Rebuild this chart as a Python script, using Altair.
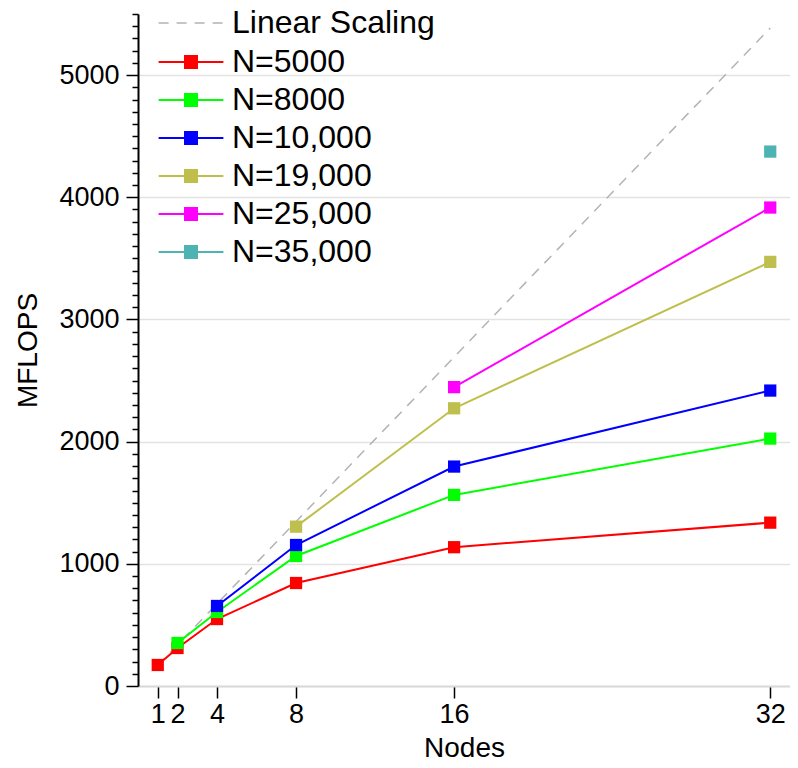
import altair as alt
import pandas as pd

FONT = "Liberation Sans"

# ---- data ----
nodes = [1, 2, 4, 8, 16, 32]
series_names = ["N=5000", "N=8000", "N=10,000", "N=19,000", "N=25,000", "N=35,000"]
series_colors = ["#ff0000", "#00ff00", "#0000ff", "#bfbf4d", "#ff00ff", "#4db3b3"]
mflops_5000 = [172, 311, 548, 843, 1136, 1337]
mflops_8000 = [None, 352, 606, 1064, 1564, 2025]
mflops_10000 = [None, None, 655, 1154, 1796, 2418]
mflops_19000 = [None, None, None, 1304, 2273, 3471]
mflops_25000 = [None, None, None, None, 2446, 3916]
mflops_35000 = [None, None, None, None, None, 4374]
linear_label = "Linear Scaling"
linear_nodes = [1, 32]
linear_mflops = [168, 5385]

x_ticks = [1, 2, 4, 8, 16, 32]
# major ticks every 1000 (labelled), minor ticks every 100
y_ticks = [0, 100, 200, 300, 400, 500, 600, 700, 800, 900,
           1000, 1100, 1200, 1300, 1400, 1500, 1600, 1700, 1800, 1900,
           2000, 2100, 2200, 2300, 2400, 2500, 2600, 2700, 2800, 2900,
           3000, 3100, 3200, 3300, 3400, 3500, 3600, 3700, 3800, 3900,
           4000, 4100, 4200, 4300, 4400, 4500, 4600, 4700, 4800, 4900,
           5000, 5100, 5200, 5300, 5400, 5500]

all_series = [mflops_5000, mflops_8000, mflops_10000, mflops_19000, mflops_25000, mflops_35000]
rows = []
for name, vals in zip(series_names, all_series):
    for n, v in zip(nodes, vals):
        if v is not None:
            rows.append({"series": name, "nodes": n, "mflops": v})
df = pd.DataFrame(rows)
linear_df = pd.DataFrame({"label": [linear_label] * len(linear_nodes),
                          "nodes": linear_nodes, "mflops": linear_mflops})

# ---- scales / axes ----
x_scale = alt.Scale(domain=[0, 33], nice=False, zero=False)
y_scale = alt.Scale(domain=[0, 5500], nice=False)

MAJOR = "datum.value % 1000 === 0"

x_axis = alt.Axis(values=x_ticks, title="Nodes", grid=False,
                  domainColor="#d9d9d9", domainWidth=2,
                  tickColor="black", tickWidth=1.5, tickSize=12,
                  labelFont=FONT, labelFontSize=27, labelColor="black", labelPadding=3,
                  titleFont=FONT, titleFontSize=28, titleColor="black",
                  titleFontWeight="normal", titlePadding=7)
y_axis = alt.Axis(values=y_ticks, title="MFLOPS", orient="left",
                  format="d",
                  labelExpr=f"{MAJOR} ? datum.label : ''",
                  grid=True, gridColor="#e3e3e3", gridWidth=1.5,
                  gridOpacity={"condition": {"test": MAJOR, "value": 1}, "value": 0},
                  domainColor="black", domainWidth=2,
                  tickColor="black", tickWidth=1.5,
                  tickSize={"condition": {"test": MAJOR, "value": 12}, "value": 6},
                  labelFont=FONT, labelFontSize=27, labelColor="black", labelPadding=7,
                  labelOverlap=False,
                  titleFont=FONT, titleFontSize=28, titleColor="black",
                  titleFontWeight="normal", titlePadding=16)

X = alt.X("nodes:Q", scale=x_scale, axis=x_axis)
Y = alt.Y("mflops:Q", scale=y_scale, axis=y_axis)

# legend symbols: a short line with (for the data series) a square in the middle
LEG_X = 37
LEG_LABEL_OFFSET = 25

linear = alt.Chart(linear_df).mark_line(color="#b3b3b3", strokeWidth=1.5).encode(
    x=X,
    y=Y,
    strokeDash=alt.StrokeDash(
        "label:N",
        scale=alt.Scale(domain=[linear_label], range=[[10, 8]]),
        legend=alt.Legend(title=None, orient="none", legendX=LEG_X, legendY=-7,
                          direction="vertical",
                          symbolType="M-5.4,0H5.4", symbolSize=144,
                          symbolStrokeColor="#b3b3b3", symbolStrokeWidth=1.5,
                          labelFont=FONT, labelFontSize=32, labelColor="black",
                          labelOffset=LEG_LABEL_OFFSET, labelLimit=400),
    ),
)

color_enc = alt.Color(
    "series:N",
    scale=alt.Scale(domain=series_names, range=series_colors),
    legend=alt.Legend(title=None, orient="none", legendX=LEG_X, legendY=32,
                      direction="vertical",
                      symbolType="M-5.4,0H5.4M-1,-1H1V1H-1Z",
                      symbolSize=144, symbolStrokeWidth=2,
                      labelFont=FONT, labelFontSize=32, labelColor="black",
                      labelOffset=LEG_LABEL_OFFSET, rowPadding=6, labelLimit=400),
)

lines = alt.Chart(df).mark_line(strokeWidth=2).encode(
    x=X,
    y=Y,
    color=color_enc,
)

points = alt.Chart(df).mark_point(shape="square", filled=True, size=150, opacity=1).encode(
    x=X,
    y=Y,
    color=color_enc,
)

chart = alt.layer(linear, lines, points).properties(
    width=652, height=672,
    padding={"left": 130, "top": 6, "right": 0, "bottom": 74},
    autosize=alt.AutoSizeParams(type="none"),
).configure_view(strokeWidth=0)

chart.save("out.html", embed_options={"renderer": "svg", "actions": False})
